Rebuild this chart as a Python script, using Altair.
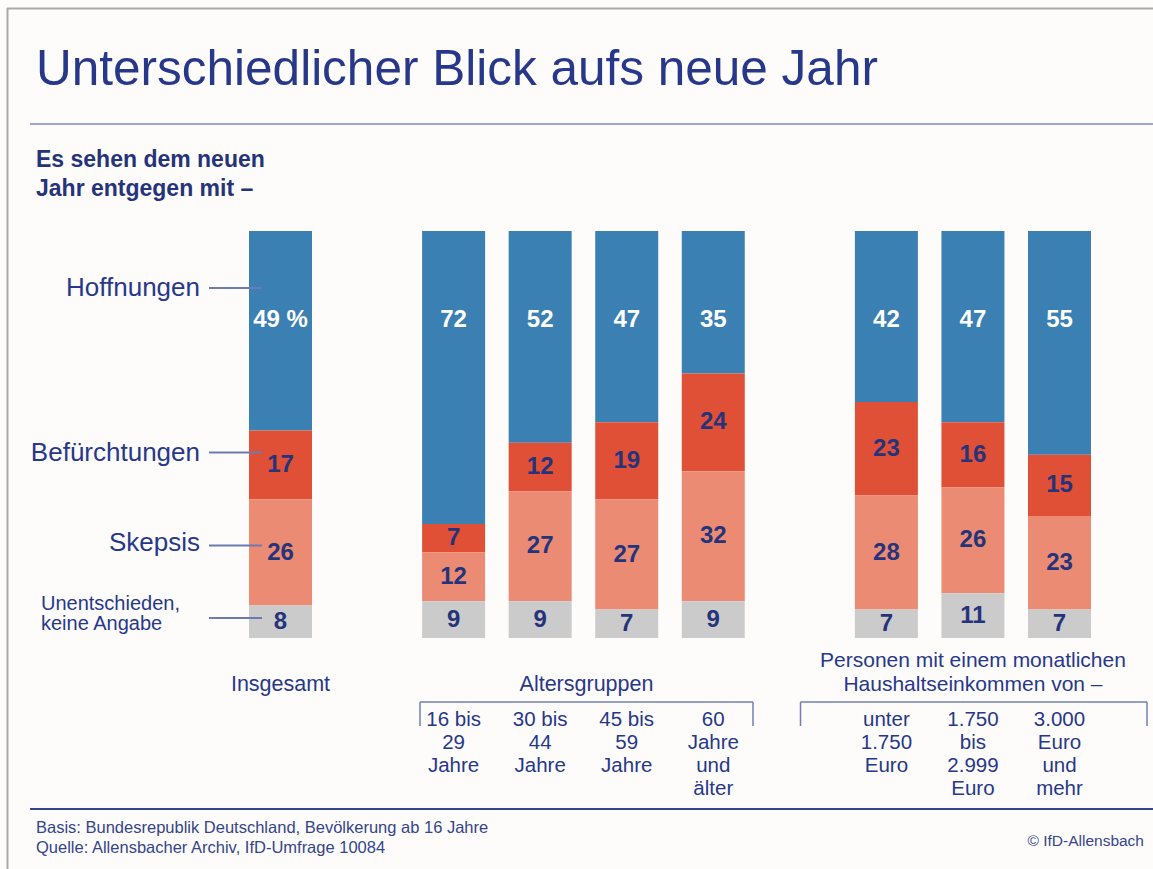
import altair as alt
import pandas as pd

# ---------------- data ----------------
groups = [
    "Insgesamt",
    "16 bis 29 Jahre",
    "30 bis 44 Jahre",
    "45 bis 59 Jahre",
    "60 Jahre und älter",
    "unter 1.750 Euro",
    "1.750 bis 2.999 Euro",
    "3.000 Euro und mehr",
]
segments = ["Hoffnungen", "Befürchtungen", "Skepsis", "Unentschieden, keine Angabe"]
hoffnungen = [49, 72, 52, 47, 35, 42, 47, 55]
befuerchtungen = [17, 7, 12, 19, 24, 23, 16, 15]
skepsis = [26, 12, 27, 27, 32, 28, 26, 23]
unentschieden = [8, 9, 9, 7, 9, 7, 11, 7]
tick_labels = [
    "",
    "16 bis\n29\nJahre",
    "30 bis\n44\nJahre",
    "45 bis\n59\nJahre",
    "60\nJahre\nund\nälter",
    "unter\n1.750\nEuro",
    "1.750\nbis\n2.999\nEuro",
    "3.000\nEuro\nund\nmehr",
]
segment_legend = ["Hoffnungen", "Befürchtungen", "Skepsis", "Unentschieden,\nkeine Angabe"]

title_text = "Unterschiedlicher Blick aufs neue Jahr"
subtitle_text = "Es sehen dem neuen\nJahr entgegen mit  –"
group_insgesamt = "Insgesamt"
group_alter = "Altersgruppen"
group_einkommen = "Personen mit einem monatlichen\nHaushaltseinkommen von –"
footer_text = "Basis: Bundesrepublik Deutschland, Bevölkerung ab 16 Jahre\nQuelle: Allensbacher Archiv, IfD-Umfrage 10084"
copyright_text = "© IfD-Allensbach"

# ---------------- styles ----------------
FONT = "Liberation Sans"
COLORS = ["#3a80b2", "#e05036", "#eb8b74", "#cbcbcb"]
NAVY = "#27388a"
DARK = "#25347a"
BG = "#fdfcfa"

LEFT, TOP = 249, 231
PW, PH = 842, 407
CW, CH = 1153, 869


def px(x):
    return x - LEFT


def py(y):
    return y - TOP


# long table
rows = []
series = [hoffnungen, befuerchtungen, skepsis, unentschieden]
stack_rank = [3, 2, 1, 0]
for i, g in enumerate(groups):
    for seg, vals, rk in zip(segments, series, stack_rank):
        v = vals[i]
        lab = f"{v} %" if (i == 0 and seg == "Hoffnungen") else str(v)
        rows.append({"group": g, "segment": seg, "value": v, "rank": rk, "label": lab})
df = pd.DataFrame(rows)

x_domain = [groups[0], " "] + groups[1:5] + ["  "] + groups[5:]
xs = alt.Scale(domain=x_domain, paddingInner=0.2722, paddingOuter=0, round=False)
ys = alt.Scale(domain=[0, 100], nice=False, zero=True)
X = alt.X("group:N", scale=xs, axis=None)

base = alt.Chart(df).transform_stack(
    stack="value",
    groupby=["group"],
    sort=[alt.SortField("rank", order="ascending")],
    as_=["y0", "y1"],
).transform_calculate(mid="(datum.y0 + datum.y1) / 2")

bars = base.mark_bar().encode(
    x=X,
    y=alt.Y("y0:Q", scale=ys, axis=None),
    y2="y1:Q",
    color=alt.Color("segment:N", scale=alt.Scale(domain=segments, range=COLORS), legend=None),
)

dark_labels = base.transform_filter(alt.datum.segment != "Hoffnungen").mark_text(
    font=FONT, fontSize=24, fontWeight="bold", color=DARK, baseline="middle", align="center"
).encode(x=X, y=alt.Y("mid:Q", scale=ys, axis=None), text="label:N")

white_labels = base.transform_filter(alt.datum.segment == "Hoffnungen").mark_text(
    font=FONT, fontSize=24, fontWeight="bold", color="white", baseline="alphabetic", align="center"
).encode(x=X, y=alt.value(py(327)), text="label:N")

tick_df = pd.DataFrame({"group": groups, "tick": tick_labels})
tick_df = tick_df[tick_df["tick"] != ""]
ticks = alt.Chart(tick_df).mark_text(
    font=FONT, fontSize=20.5, lineBreak="\n", lineHeight=23, baseline="alphabetic",
    align="center", color=NAVY,
).encode(x=X, y=alt.value(py(726)), text="tick:N")

one = alt.Data(values=[{"k": 1}])


def text_layer(txt, x, y, size, align="left", weight="normal", color=NAVY, lh=None):
    kw = dict(font=FONT, fontSize=size, align=align, baseline="alphabetic",
              fontWeight=weight, color=color, text=txt, lineBreak="\n")
    if lh is not None:
        kw["lineHeight"] = lh
    return alt.Chart(one).mark_text(**kw).encode(x=alt.value(x), y=alt.value(y))


def hrule(x1, x2, y, color, w):
    return alt.Chart(one).mark_rule(color=color, strokeWidth=w).encode(
        x=alt.value(x1), x2=alt.value(x2), y=alt.value(y))


def vrule(x, y1, y2, color, w):
    return alt.Chart(one).mark_rule(color=color, strokeWidth=w).encode(
        x=alt.value(x), y=alt.value(y1), y2=alt.value(y2))


# group labels positioned on the band scale
grp1 = alt.Chart(pd.DataFrame({"group": [groups[0]], "t": [group_insgesamt]})).mark_text(
    font=FONT, fontSize=21.5, baseline="alphabetic", align="center", color=NAVY
).encode(x=X, y=alt.value(py(691)), text="t:N")
grp3 = alt.Chart(pd.DataFrame({"group": [groups[6]], "t": [group_einkommen]})).mark_text(
    font=FONT, fontSize=21, baseline="alphabetic", align="center", color=NAVY,
    lineBreak="\n", lineHeight=23.5,
).encode(x=X, y=alt.value(py(667)), text="t:N")

BRK = "#7080b5"
decor = [
    # frame
    hrule(px(7), px(CW), py(8.5), "#a9a9a9", 2),
    vrule(px(7.5), py(8), py(CH), "#a9a9a9", 2),
    # title + rule
    text_layer(title_text, px(36), py(85), 49.5),
    hrule(px(30), px(CW), py(124), "#7d8abd", 1.5),
    text_layer(subtitle_text, px(36), py(167), 23, weight="bold", color=DARK, lh=28.5),
    # segment legend on left
    text_layer(segment_legend[0], px(200), py(296), 26, align="right"),
    text_layer(segment_legend[1], px(200), py(461), 26, align="right"),
    text_layer(segment_legend[2], px(200), py(551), 26, align="right"),
    text_layer(segment_legend[3], px(41), py(610), 20, align="left", lh=20),
    # group label
    text_layer(group_alter, px(586.5), py(691), 21.5, align="center"),
    # brackets
    hrule(px(420), px(753), py(702), BRK, 1.5),
    vrule(px(420), py(702), py(726), BRK, 1.5),
    vrule(px(753), py(702), py(726), BRK, 1.5),
    hrule(px(800.5), px(1147), py(702), BRK, 1.5),
    vrule(px(800.5), py(702), py(726), BRK, 1.5),
    vrule(px(1147), py(702), py(726), BRK, 1.5),
    # footer
    hrule(px(30), px(CW), py(809), "#34458a", 2),
    text_layer(footer_text, px(36), py(833), 16.5, color="#34458a", lh=20.3),
    text_layer(copyright_text, px(1144), py(846), 15.5, align="right", color="#34458a"),
]

connectors = [
    hrule(px(209), px(262), py(y), "#6b7ab0", 2) for y in [288, 452.5, 545.5, 618]
]

chart = alt.layer(
    bars, dark_labels, white_labels, ticks, grp1, grp3, *decor, *connectors
).properties(
    width=PW,
    height=PH,
    autosize=alt.AutoSizeParams(type="none"),
    padding={"left": LEFT, "top": TOP, "right": CW - LEFT - PW, "bottom": CH - TOP - PH},
    background=BG,
).configure_view(stroke=None)

chart.save("out.html", embed_options={"renderer": "svg", "actions": False})
